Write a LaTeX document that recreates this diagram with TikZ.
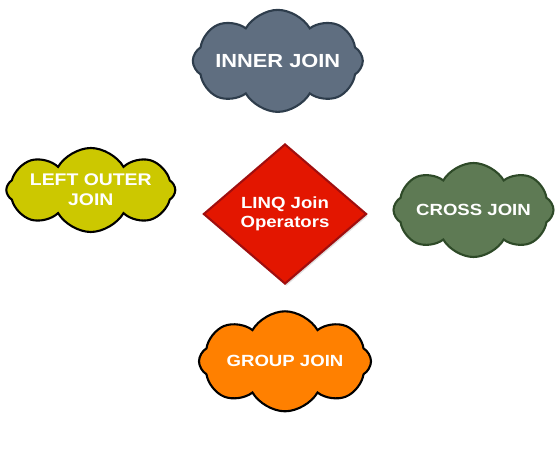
\documentclass[tikz,border=0pt]{standalone}
\usepackage{fontspec}
\setmainfont{Liberation Sans}[FakeStretch=1.15]
\usepackage{tikz}
\usetikzlibrary{positioning, shapes.symbols, shapes.geometric, shadows}

\definecolor{slate}{HTML}{5F6E80}
\definecolor{slateline}{HTML}{2E3D4C}
\definecolor{olive}{HTML}{CCC800}
\definecolor{linqred}{HTML}{E31600}
\definecolor{linqline}{HTML}{A00E0E}
\definecolor{moss}{HTML}{5E7A54}
\definecolor{mossline}{HTML}{2E4A28}
\definecolor{orangefill}{HTML}{FF8000}

\begin{document}
\begin{tikzpicture}[
  joincloud/.style={cloud, cloud puffs=8, cloud puff arc=120, cloud ignores aspect, draw, line width=1.5pt,
    align=center, text=white, font=\bfseries\fontsize{11.5}{13.5}\selectfont, inner sep=0pt},
  center/.style={diamond, draw=linqline, fill=linqred, line width=1.5pt, aspect=1.16,
    minimum width=4.08cm, minimum height=3.5cm, inner sep=0pt, align=center, text=white,
    font=\bfseries\fontsize{11.5}{13.5}\selectfont, drop shadow={opacity=0.25, shadow xshift=1pt, shadow yshift=-1.5pt}},
]
  \useasboundingbox (-7.125,5.35) rectangle (6.875,-6.15);
  \node[center] (linq) at (0,0) {LINQ Join\\Operators};
  \node[joincloud, fill=slate, draw=slateline, minimum width=4.25cm, minimum height=2.55cm,
    font=\bfseries\fontsize{13.5}{16}\selectfont, above=0.75cm of linq, xshift=-0.18cm] (inner) {INNER JOIN};
  \node[joincloud, fill=olive, draw=black, minimum width=3.75cm, minimum height=2.1cm,
    font=\bfseries\fontsize{12}{14}\selectfont, left=0.65cm of linq, yshift=0.6cm] (leftouter) {LEFT OUTER\\JOIN};
  \node[joincloud, fill=moss, draw=mossline, minimum width=4.0cm, minimum height=2.35cm,
    right=0.62cm of linq, yshift=0.1cm] (cross) {CROSS JOIN};
  \node[joincloud, fill=orangefill, draw=black, minimum width=4.3cm, minimum height=2.5cm,
    below=0.63cm of linq] (group) {GROUP JOIN};
\end{tikzpicture}
\end{document}
